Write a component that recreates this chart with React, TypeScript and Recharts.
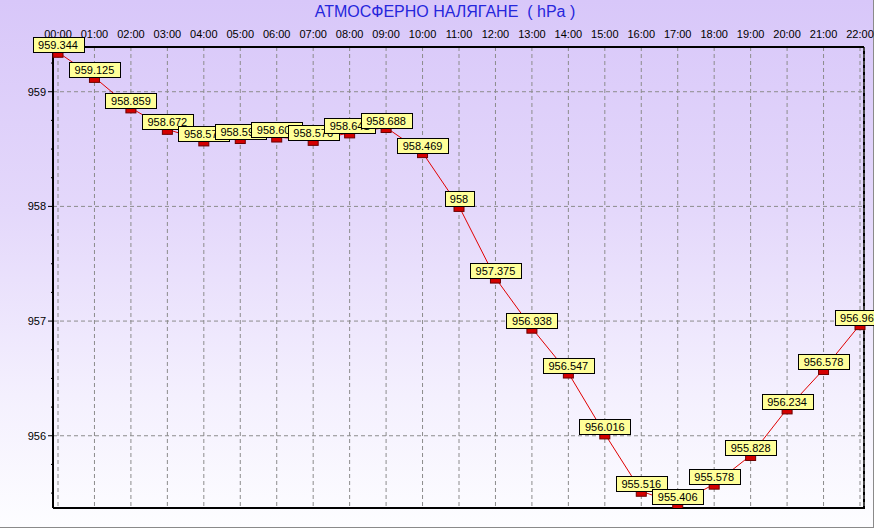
import React from 'react';
import {
  LineChart,
  Line,
  XAxis,
  YAxis,
  CartesianGrid,
  ReferenceLine,
  LabelList,
} from 'recharts';

const HOURS = [
  '00:00', '01:00', '02:00', '03:00', '04:00', '05:00', '06:00', '07:00',
  '08:00', '09:00', '10:00', '11:00', '12:00', '13:00', '14:00', '15:00',
  '16:00', '17:00', '18:00', '19:00', '20:00', '21:00', '22:00',
];

const PRESSURE = [
  959.344, 959.125, 958.859, 958.672, 958.571, 958.592, 958.605, 958.576,
  958.641, 958.688, 958.469, 958, 957.375, 956.938, 956.547, 956.016,
  955.516, 955.406, 955.578, 955.828, 956.234, 956.578, 956.969,
];

const Y_MAJOR = [956, 957, 958, 959];
const Y_MINOR = [
  955.5, 955.75, 956.25, 956.5, 956.75, 957.25, 957.5, 957.75,
  958.25, 958.5, 958.75, 959.25,
];
const Y_DOMAIN = [955.37, 959.39];

const TITLE = 'АТМОСФЕРНО НАЛЯГАНЕ  ( hPa )';

const FONT = '"Liberation Sans", Arial, sans-serif';

const data = HOURS.map((hour, i) => ({ hour, value: PRESSURE[i] }));
const yTicks = [...Y_MAJOR, ...Y_MINOR].sort((a, b) => a - b);

// rough Arial 11px widths, enough to size the yellow boxes
const textWidth = (s: string) =>
  s.split('').reduce((w, c) => w + (c === '.' ? 3.06 : 6.12), 0);

const YTick = (props: any) => {
  const { x, y, payload } = props;
  const major = Y_MAJOR.includes(payload.value);
  const axisX = x + 7; // tickSize + tickMargin
  return (
    <g>
      <line x1={axisX - (major ? 5 : 2)} x2={axisX} y1={y} y2={y} stroke="#000" />
      {major && (
        <text x={x} y={y} dy={4} textAnchor="end" fontSize={11} fontFamily={FONT} fill="#000">
          {payload.value}
        </text>
      )}
    </g>
  );
};

const Marker = (props: any) => {
  const { cx, cy, index } = props;
  if (cx == null || cy == null) return null;
  return (
    <rect
      key={`m-${index}`}
      x={cx - 5}
      y={cy - 1}
      width={10}
      height={6}
      fill="#d40000"
      stroke="#6a0000"
      strokeWidth={1}
    />
  );
};

const ValueLabel = (props: any) => {
  const vb = props.viewBox || {};
  const x = props.x ?? vb.x;
  const y = props.y ?? vb.y;
  if (x == null || y == null) return null;
  const label = String(props.value);
  const w = Math.round(textWidth(label) + 11);
  const h = 15;
  return (
    <g>
      <rect
        x={Math.round(x - w / 2) + 0.5}
        y={Math.round(y - h) + 0.5}
        width={w}
        height={h}
        fill="#ffff99"
        stroke="#000"
        strokeWidth={1}
      />
      <text
        x={x}
        y={y - 3}
        textAnchor="middle"
        fontSize={11}
        fontFamily={FONT}
        fill="#000"
      >
        {label}
      </text>
    </g>
  );
};

export default function App() {
  return (
    <div
      style={{
        position: 'absolute',
        left: 0,
        top: 0,
        width: 874,
        height: 529,
        background: '#ffffff',
        overflow: 'hidden',
      }}
    >
      <div
        style={{
          position: 'absolute',
          left: 0,
          top: 0,
          width: 874,
          height: 528,
          boxSizing: 'border-box',
          borderRight: '1px solid #8a8a8a',
          borderBottom: '1px solid #8a8a8a',
          background: 'linear-gradient(to bottom, #d8c7f9 0%, #e4d8fb 40%, #f4f0fe 75%, #fdfdff 100%)',
        }}
      />
      {/* right and bottom edges of the plot frame */}
      <div
        style={{
          position: 'absolute',
          left: 53,
          top: 47,
          width: 812,
          height: 462,
          boxSizing: 'border-box',
          borderRight: '2px solid #000',
          borderBottom: '2px solid #000',
        }}
      />
      <div
        style={{
          position: 'absolute',
          left: 0,
          top: 3,
          width: 874,
          textAlign: 'center',
          fontFamily: FONT,
          fontSize: 16,
          color: '#2626dc',
          whiteSpace: 'pre',
          paddingLeft: 16,
          boxSizing: 'border-box',
        }}
      >
        {TITLE}
      </div>
      <div style={{ position: 'absolute', left: 0, top: 0 }}>
        <LineChart
          width={874}
          height={529}
          data={data}
          margin={{ top: 27, right: 10, bottom: 21, left: 8 }}
        >
          <CartesianGrid
            horizontal={false}
            stroke="#8c8c8c"
            strokeDasharray="4 3"
          />
          {Y_MAJOR.map((v) => (
            <ReferenceLine
              key={v}
              y={v}
              stroke="#8c8c8c"
              strokeDasharray="4 3"
              ifOverflow="visible"
            />
          ))}
          <XAxis
            dataKey="hour"
            orientation="top"
            height={20}
            interval={0}
            padding={{ left: 5, right: 4 }}
            tickLine={false}
            tickSize={6}
            tickMargin={3}
            axisLine={{ stroke: '#000', strokeWidth: 2 }}
            tick={{ fontSize: 11, fontFamily: FONT, fill: '#000' }}
          />
          <YAxis
            width={45}
            domain={Y_DOMAIN}
            ticks={yTicks}
            interval={0}
            allowDataOverflow
            tickLine={false}
            tickSize={5}
            tickMargin={2}
            axisLine={{ stroke: '#000', strokeWidth: 2 }}
            tick={<YTick />}
          />
          <Line
            type="linear"
            dataKey="value"
            stroke="#e00000"
            strokeWidth={1}
            dot={<Marker />}
            activeDot={false}
            isAnimationActive={false}
          >
            <LabelList dataKey="value" content={<ValueLabel />} />
          </Line>
        </LineChart>
      </div>
    </div>
  );
}
